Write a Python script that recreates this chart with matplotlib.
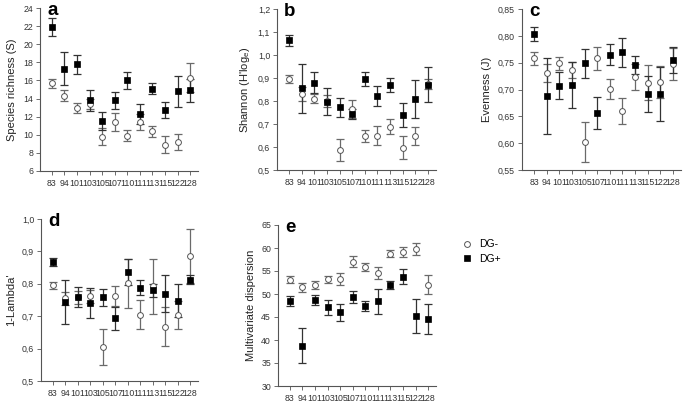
import matplotlib
matplotlib.use("Agg")
import matplotlib.pyplot as plt
from matplotlib.ticker import FuncFormatter, MultipleLocator

plt.rcParams.update({
    "font.family": ["Liberation Sans", "DejaVu Sans"],
    "font.size": 6.5,
})

# ---- data ----
sites = ["83", "94", "101", "103", "105", "107", "110", "111", "113", "115", "122", "128"]

rich_neg = [15.7, 14.3, 13.0, 13.4, 9.8, 11.4, 9.9, 11.4, 10.4, 8.9, 9.2, 16.3]
rich_neg_se = [0.5, 0.6, 0.55, 0.6, 0.9, 1.0, 0.6, 0.85, 0.6, 0.95, 0.85, 1.6]
rich_pos = [21.9, 17.3, 17.8, 13.8, 11.5, 13.8, 16.0, 12.3, 15.1, 12.7, 14.8, 14.9]
rich_pos_se = [1.0, 1.85, 1.05, 1.15, 1.0, 0.9, 0.9, 1.15, 0.65, 0.9, 1.7, 1.3]

shan_neg = [0.896, 0.830, 0.810, 0.800, 0.587, 0.765, 0.648, 0.649, 0.688, 0.597, 0.648, 0.874]
shan_neg_se = [0.017, 0.03, 0.02, 0.025, 0.048, 0.04, 0.027, 0.042, 0.033, 0.05, 0.04, 0.022]
shan_pos = [1.064, 0.855, 0.880, 0.797, 0.772, 0.743, 0.897, 0.822, 0.870, 0.739, 0.809, 0.870]
shan_pos_se = [0.024, 0.107, 0.044, 0.058, 0.043, 0.023, 0.031, 0.043, 0.029, 0.053, 0.083, 0.076]

even_neg = [0.758, 0.731, 0.749, 0.737, 0.602, 0.758, 0.701, 0.660, 0.724, 0.713, 0.714, 0.748]
even_neg_se = [0.012, 0.017, 0.012, 0.015, 0.038, 0.022, 0.018, 0.025, 0.024, 0.032, 0.03, 0.03]
even_pos = [0.804, 0.688, 0.707, 0.708, 0.749, 0.656, 0.765, 0.769, 0.745, 0.692, 0.691, 0.755]
even_pos_se = [0.013, 0.07, 0.025, 0.043, 0.027, 0.03, 0.019, 0.027, 0.017, 0.034, 0.05, 0.024]

lamb_neg = [0.795, 0.755, 0.758, 0.762, 0.605, 0.763, 0.802, 0.705, 0.792, 0.668, 0.703, 0.885]
lamb_neg_se = [0.012, 0.02, 0.02, 0.02, 0.055, 0.03, 0.076, 0.045, 0.085, 0.059, 0.043, 0.083]
lamb_pos = [0.867, 0.745, 0.758, 0.740, 0.758, 0.693, 0.837, 0.788, 0.780, 0.770, 0.748, 0.813]
lamb_pos_se = [0.012, 0.068, 0.031, 0.047, 0.027, 0.035, 0.04, 0.023, 0.02, 0.058, 0.052, 0.014]

disp_neg = [53.1, 51.5, 52.0, 53.2, 53.2, 57.0, 55.8, 54.6, 58.8, 59.2, 59.7, 52.0]
disp_neg_se = [0.8, 1.0, 0.9, 0.8, 1.3, 1.2, 0.9, 1.3, 0.8, 1.1, 1.3, 2.1]
disp_pos = [48.4, 38.8, 48.7, 47.1, 46.0, 49.4, 47.3, 48.4, 52.0, 53.8, 45.2, 44.6]
disp_pos_se = [1.1, 3.8, 1.1, 1.7, 1.9, 1.3, 1.1, 2.7, 0.9, 1.6, 3.7, 3.2]

W, H = 685, 403
fig = plt.figure(figsize=(W / 100, H / 100), dpi=100)


def px_axes(left, right, top, bottom):
    return fig.add_axes([left / W, (H - bottom) / H, (right - left) / W, (bottom - top) / H])


comma1 = FuncFormatter(lambda v, p: ("%.1f" % v).replace(".", ","))
comma2 = FuncFormatter(lambda v, p: ("%.2f" % v).replace(".", ","))


def panel(box, letter, neg, neg_se, pos, pos_se, ylim, step, ylabel, fmt=None):
    ax = px_axes(*box)
    x = list(range(len(sites)))
    ax.errorbar(x, neg, yerr=neg_se, fmt="none", ecolor="#6a6a6a", elinewidth=0.9,
                capsize=3.2, capthick=0.9, zorder=2)
    ax.errorbar(x, pos, yerr=pos_se, fmt="none", ecolor="#333333", elinewidth=0.9,
                capsize=3.2, capthick=0.9, zorder=2)
    hn, = ax.plot(x, neg, "o", ms=4.2, mfc="white", mec="#555555", mew=0.7,
                  ls="none", zorder=4, label="DG-")
    hp, = ax.plot(x, pos, "s", ms=3.8, mfc="black", mec="black", mew=0.5,
                  ls="none", zorder=5, label="DG+")
    ax.set_xlim(-0.95, 11.63)
    ax.set_ylim(*ylim)
    ax.yaxis.set_major_locator(MultipleLocator(step))
    if fmt is not None:
        ax.yaxis.set_major_formatter(fmt)
    ax.set_xticks(x)
    ax.set_xticklabels(sites, fontsize=6.3, color="#333333")
    ax.tick_params(axis="y", labelsize=6.3, labelcolor="#333333", length=3, width=0.6,
                   color="#555555", pad=2)
    ax.tick_params(axis="x", length=3, width=0.6, color="#555555", pad=2.5)
    for s in ("top", "right"):
        ax.spines[s].set_visible(False)
    for s in ("left", "bottom"):
        ax.spines[s].set_color("#555555")
        ax.spines[s].set_linewidth(0.8)
    ax.set_ylabel(ylabel, fontsize=8, color="#222222", labelpad=4)
    ax.text(0.045, 0.985, letter, transform=ax.transAxes, fontsize=13.5,
            fontweight="bold", ha="left", va="center")
    return ax, hn, hp


panel((40, 198, 8, 171), "a", rich_neg, rich_neg_se, rich_pos, rich_pos_se,
      (6, 24), 2, "Species richness (S)")
panel((277, 436, 9, 170), "b", shan_neg, shan_neg_se, shan_pos, shan_pos_se,
      (0.5, 1.2), 0.1, "Shannon (H'log$_\\mathregular{e}$)", comma1)
panel((522, 681, 9, 170), "c", even_neg, even_neg_se, even_pos, even_pos_se,
      (0.55, 0.85), 0.05, "Evenness (J)", comma2)
panel((41, 198, 219, 381), "d", lamb_neg, lamb_neg_se, lamb_pos, lamb_pos_se,
      (0.5, 1.0), 0.1, "1-Lambda'", comma1)
ax, hn, hp = panel((278, 436, 225, 386), "e", disp_neg, disp_neg_se, disp_pos, disp_pos_se,
                   (30, 65), 5, "Multivariate dispersion")

fig.legend(handles=[hn, hp], loc="upper left", bbox_to_anchor=(451 / W, 1 - 230 / H),
           frameon=False, fontsize=7.5, handletextpad=0.6, labelspacing=0.45,
           handlelength=1.2)

fig.savefig("out.png", dpi=100, facecolor="white")
